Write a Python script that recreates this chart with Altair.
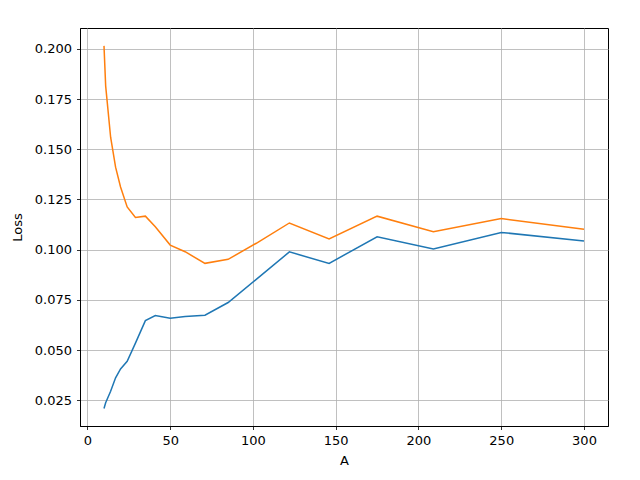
import altair as alt
import pandas as pd

x_vals = [10, 11, 14, 17, 20, 24, 29, 35, 41, 50, 59, 71, 85, 102, 122, 146, 175, 209, 250, 300]
blue_vals = [0.0209, 0.0238, 0.0295, 0.0362, 0.0406, 0.0444, 0.0535, 0.0647, 0.0672, 0.0659,
             0.0667, 0.0674, 0.0737, 0.0852, 0.0989, 0.0932, 0.1064, 0.1003, 0.1086, 0.1043]
orange_vals = [0.2015, 0.1816, 0.1560, 0.1411, 0.1312, 0.1213, 0.1160, 0.1167, 0.1114, 0.1023,
               0.0990, 0.0932, 0.0952, 0.1032, 0.1133, 0.1053, 0.1167, 0.1089, 0.1155, 0.1102]
series_names = ["train", "test"]
x_ticks = [0, 50, 100, 150, 200, 250, 300]
y_ticks = [0.025, 0.050, 0.075, 0.100, 0.125, 0.150, 0.175, 0.200]

rows = []
for name, vals in zip(series_names, [blue_vals, orange_vals]):
    for xv, yv in zip(x_vals, vals):
        rows.append({"A": xv, "Loss": yv, "series": name})
df = pd.DataFrame(rows)

font = "DejaVu Sans"
chart = alt.Chart(df).mark_line(strokeWidth=1.5).encode(
    x=alt.X("A:Q",
            scale=alt.Scale(domain=[-4.5, 314.5], nice=False, zero=False),
            axis=alt.Axis(values=x_ticks, title="A", format="d", grid=True,
                          labelFlush=False, labelPadding=5, titlePadding=7)),
    y=alt.Y("Loss:Q",
            scale=alt.Scale(domain=[0.0122, 0.2104], nice=False, zero=False),
            axis=alt.Axis(values=y_ticks, title="Loss", format=".3f", grid=True,
                          labelFlush=False, labelPadding=5, titlePadding=10)),
    color=alt.Color("series:N",
                    scale=alt.Scale(domain=series_names, range=["#1f77b4", "#ff7f0e"]),
                    legend=None),
).properties(
    width=528, height=398,
    padding={"left": 72, "top": 20, "right": 24, "bottom": 46},
    autosize=alt.AutoSizeParams(type="none"),
    background="white",
).configure_view(
    stroke="black", strokeWidth=1, fill="white"
).configure_axis(
    domainColor="black", domainWidth=1,
    tickColor="black", tickSize=3.5, tickWidth=0.8,
    gridColor="#b0b0b0", gridWidth=0.8, gridOpacity=1,
    labelFont=font, labelFontSize=13, labelColor="black",
    titleFont=font, titleFontSize=13, titleColor="black", titleFontWeight="normal",
)

chart.save("out.html", embed_options={"renderer": "svg", "actions": False})
